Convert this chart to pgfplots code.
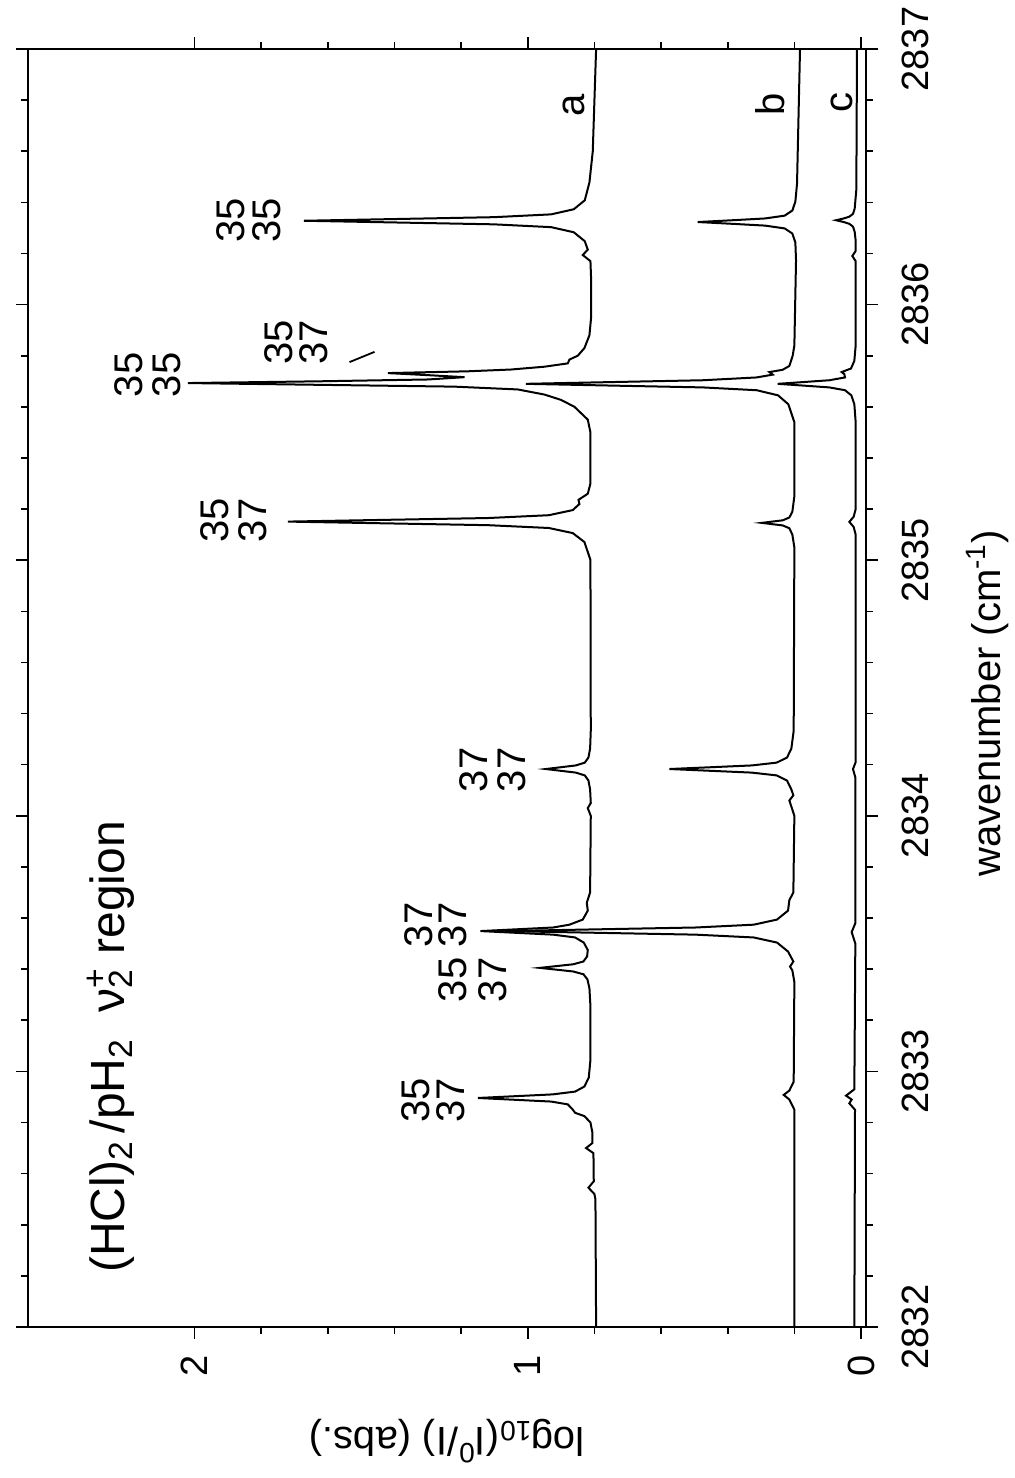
\documentclass[border=0pt]{standalone}
\usepackage{fontspec}
\setmainfont{Liberation Sans}
\usepackage{pgfplots}
\pgfplotsset{compat=1.18}
\newcommand\ann{\fontsize{20}{24}\selectfont}
\begin{document}
\rotatebox{90}{%
\begin{tikzpicture}
\begin{axis}[
  at={(0pt,0pt)}, anchor=south west,
  width=639pt, height=419pt, scale only axis,
  xmin=2832, xmax=2837, ymin=-0.015, ymax=2.5,
  xtick={2832,2833,2834,2835,2836,2837},
  ytick={0,1,2},
  minor x tick num=4, minor y tick num=4,
  tick align=outside,
  major tick length=6pt, minor tick length=3.5pt,
  axis line style={line width=1pt},
  every tick/.style={black, line width=0.8pt},
  tick label style={font=\fontsize{19}{22}\selectfont},
  /pgf/number format/assume math mode=true,
  x tick label style={/pgf/number format/1000 sep={}, inner sep=0pt, anchor=north, yshift=-12pt},
  y tick label style={inner sep=0pt, anchor=east, xshift=-8pt},
  xlabel={wavenumber (cm\textsuperscript{-1})},
  ylabel={log\textsubscript{10}(I\textsuperscript{0}/I) (abs.)},
  label style={font=\fontsize{20}{24}\selectfont},
  xlabel style={at={(axis description cs:0.488,-0.16)}, anchor=base},
  ylabel style={at={(axis description cs:-0.079,0.5)}, anchor=base},
  clip=false,
]
% trace a
\addplot[black, line width=1pt] coordinates {
(2832.00,0.795) (2832.50,0.797) (2832.52,0.80) (2832.545,0.818) (2832.57,0.802)
(2832.68,0.803) (2832.70,0.825) (2832.72,0.806) (2832.76,0.806) (2832.80,0.812)
(2832.825,0.83) (2832.838,0.858) (2832.852,0.866) (2832.871,0.88) (2832.882,0.93)
(2832.889,1.04) (2832.896,1.15) (2832.903,1.038) (2832.910,0.926) (2832.921,0.858)
(2832.941,0.83) (2832.976,0.817) (2833.046,0.812) (2833.255,0.812) (2833.325,0.815)
(2833.360,0.821) (2833.380,0.833) (2833.391,0.864) (2833.398,0.914) (2833.405,0.964)
(2833.412,0.914) (2833.419,0.864) (2833.430,0.833) (2833.450,0.822) (2833.475,0.82)
(2833.504,0.832) (2833.524,0.858) (2833.535,0.924) (2833.542,1.033) (2833.549,1.142)
(2833.556,1.033) (2833.563,0.924) (2833.574,0.875) (2833.594,0.835) (2833.629,0.82)
(2833.66,0.823) (2833.70,0.813) (2834.00,0.811) (2834.03,0.82) (2834.05,0.811)
(2834.103,0.813) (2834.138,0.818) (2834.158,0.829) (2834.169,0.856) (2834.176,0.901)
(2834.183,0.946) (2834.190,0.901) (2834.197,0.856) (2834.208,0.829) (2834.228,0.818)
(2834.263,0.813) (2834.333,0.811) (2835.001,0.812) (2835.071,0.83) (2835.106,0.865)
(2835.126,0.937) (2835.137,1.119) (2835.144,1.42) (2835.151,1.72) (2835.158,1.42)
(2835.165,1.119) (2835.176,0.937) (2835.196,0.865) (2835.22,0.845) (2835.236,0.848)
(2835.26,0.82) (2835.30,0.812) (2835.50,0.812) (2835.55,0.82) (2835.60,0.86)
(2835.627,0.90) (2835.648,0.95) (2835.668,1.03) (2835.679,1.22) (2835.686,1.62)
(2835.693,2.02) (2835.700,1.62) (2835.707,1.30) (2835.716,1.19) (2835.724,1.30)
(2835.732,1.42) (2835.739,1.18) (2835.746,1.05) (2835.757,0.95) (2835.77,0.88)
(2835.785,0.875) (2835.80,0.85) (2835.83,0.83) (2835.88,0.815) (2835.95,0.81)
(2836.10,0.81) (2836.17,0.812) (2836.194,0.835) (2836.215,0.82) (2836.248,0.829)
(2836.283,0.862) (2836.303,0.93) (2836.314,1.102) (2836.321,1.386) (2836.328,1.672)
(2836.335,1.386) (2836.342,1.102) (2836.353,0.93) (2836.373,0.862) (2836.408,0.829)
(2836.478,0.815) (2836.60,0.805) (2837.00,0.795)
};
% trace b
\addplot[black, line width=1pt] coordinates {
(2832.00,0.200) (2832.85,0.200) (2832.89,0.215) (2832.908,0.232) (2832.925,0.215)
(2832.96,0.202) (2833.35,0.200) (2833.395,0.206) (2833.41,0.213) (2833.43,0.203)
(2833.469,0.219) (2833.504,0.252) (2833.524,0.322) (2833.535,0.496) (2833.542,0.783)
(2833.549,1.07) (2833.556,0.783) (2833.563,0.496) (2833.574,0.322) (2833.594,0.252)
(2833.629,0.219) (2833.67,0.215) (2833.70,0.203) (2834.00,0.200) (2834.06,0.215)
(2834.08,0.203) (2834.103,0.209) (2834.138,0.222) (2834.158,0.253) (2834.169,0.328)
(2834.176,0.451) (2834.183,0.575) (2834.190,0.451) (2834.197,0.328) (2834.208,0.253)
(2834.228,0.222) (2834.263,0.209) (2834.333,0.202) (2835.05,0.200) (2835.10,0.206)
(2835.125,0.215) (2835.136,0.235) (2835.146,0.298) (2835.156,0.235) (2835.167,0.215)
(2835.19,0.206) (2835.25,0.200) (2835.54,0.200) (2835.61,0.218) (2835.645,0.249)
(2835.665,0.313) (2835.676,0.475) (2835.683,0.743) (2835.690,1.006) (2835.697,0.743)
(2835.704,0.475) (2835.715,0.313) (2835.726,0.265) (2835.736,0.275) (2835.745,0.235)
(2835.76,0.215) (2835.80,0.205) (2835.84,0.200) (2836.173,0.195) (2836.243,0.197)
(2836.278,0.206) (2836.298,0.229) (2836.309,0.288) (2836.316,0.386) (2836.323,0.49)
(2836.330,0.386) (2836.337,0.288) (2836.348,0.229) (2836.368,0.206) (2836.403,0.197)
(2836.473,0.192) (2837.00,0.183)
};
% trace c
\addplot[black, line width=1pt] coordinates {
(2832.00,0.020) (2832.85,0.018) (2832.875,0.035) (2832.89,0.028) (2832.905,0.045)
(2832.93,0.020) (2833.50,0.017) (2833.545,0.028) (2833.58,0.017) (2834.15,0.017)
(2834.183,0.024) (2834.21,0.016) (2835.10,0.016) (2835.13,0.022) (2835.15,0.035)
(2835.17,0.022) (2835.20,0.016) (2835.54,0.016) (2835.61,0.020) (2835.645,0.029)
(2835.665,0.048) (2835.676,0.095) (2835.683,0.172) (2835.690,0.25) (2835.697,0.172)
(2835.704,0.095) (2835.715,0.048) (2835.728,0.050) (2835.736,0.058) (2835.75,0.030)
(2835.78,0.020) (2835.84,0.016) (2836.17,0.016) (2836.19,0.026) (2836.21,0.016)
(2836.25,0.016) (2836.285,0.019) (2836.305,0.024) (2836.316,0.035) (2836.323,0.052)
(2836.330,0.075) (2836.337,0.052) (2836.344,0.035) (2836.355,0.024) (2836.375,0.019)
(2836.45,0.014) (2837.00,0.012)
};
% title and trace labels
\node[anchor=base west, inner sep=0pt, font=\fontsize{24}{29}\selectfont]
  at (axis cs:2832.21,2.21)
  {(HCl)\textsubscript{2}\,/pH\textsubscript{2}\hspace{0.55em}ν\rlap{\textsubscript{2}}\textsuperscript{+} region};
\node[anchor=base, inner sep=0pt, font=\ann] at (axis cs:2836.78,0.83) {a};
\node[anchor=base, inner sep=0pt, font=\ann] at (axis cs:2836.785,0.23) {b};
\node[anchor=base, inner sep=0pt, font=\ann] at (axis cs:2836.79,0.027) {c};
% isotope labels
\begin{scope}[every node/.style={anchor=base, inner sep=0pt, font=\ann}]
\node at (axis cs:2832.888,1.296) {35};
\node at (axis cs:2832.888,1.189) {37};
\node at (axis cs:2833.573,1.287) {37};
\node at (axis cs:2833.573,1.183) {37};
\node at (axis cs:2833.358,1.183) {35};
\node at (axis cs:2833.358,1.063) {37};
\node at (axis cs:2834.18,1.12) {37};
\node at (axis cs:2834.18,1.006) {37};
\node at (axis cs:2835.157,1.898) {35};
\node at (axis cs:2835.157,1.784) {37};
\node at (axis cs:2835.725,2.156) {35};
\node at (axis cs:2835.725,2.042) {35};
\node at (axis cs:2835.853,1.707) {35};
\node at (axis cs:2835.853,1.602) {37};
\node at (axis cs:2836.33,1.85) {35};
\node at (axis cs:2836.33,1.743) {35};
\end{scope}
\draw[line width=0.9pt] (axis cs:2835.815,1.46) -- (axis cs:2835.775,1.535);
\end{axis}
\pgfresetboundingbox
\path (-75.5pt,-74pt) rectangle (663.5pt,433pt);
\end{tikzpicture}}
\end{document}
